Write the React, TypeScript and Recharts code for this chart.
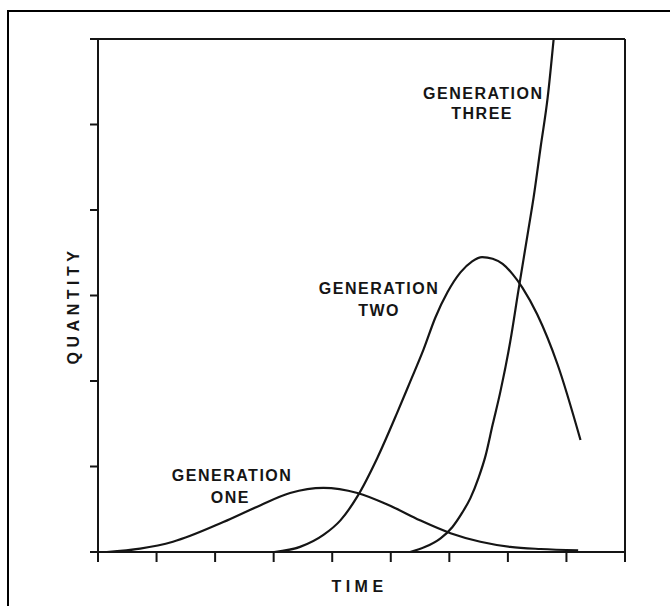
import React from 'react';
import { LineChart, Line, XAxis, YAxis, ReferenceLine, ReferenceDot } from 'recharts';

const xTicks = [0, 1, 2, 3, 4, 5, 6, 7, 8, 9];
const yTicks = [0, 1, 2, 3, 4, 5, 6];

const generationOne = [
  { t: 0.15, q: 0.0 }, { t: 0.72, q: 0.04 }, { t: 1.28, q: 0.12 }, { t: 2.14, q: 0.35 },
  { t: 2.72, q: 0.53 }, { t: 3.28, q: 0.69 }, { t: 3.85, q: 0.75 }, { t: 4.43, q: 0.69 },
  { t: 4.99, q: 0.54 }, { t: 5.5, q: 0.37 }, { t: 6.02, q: 0.22 }, { t: 6.53, q: 0.12 },
  { t: 7.04, q: 0.06 }, { t: 7.56, q: 0.035 }, { t: 8.2, q: 0.02 },
];

const generationTwo = [
  { t: 3.01, q: 0.0 }, { t: 3.45, q: 0.06 }, { t: 3.85, q: 0.2 }, { t: 4.14, q: 0.37 },
  { t: 4.43, q: 0.65 }, { t: 4.77, q: 1.1 }, { t: 5.11, q: 1.63 }, { t: 5.33, q: 1.99 },
  { t: 5.56, q: 2.37 }, { t: 5.76, q: 2.74 }, { t: 5.97, q: 3.04 }, { t: 6.19, q: 3.27 },
  { t: 6.39, q: 3.4 }, { t: 6.56, q: 3.45 }, { t: 6.74, q: 3.43 }, { t: 6.91, q: 3.37 },
  { t: 7.08, q: 3.25 }, { t: 7.25, q: 3.09 }, { t: 7.5, q: 2.78 }, { t: 7.85, q: 2.19 },
  { t: 8.24, q: 1.31 },
];

const generationThree = [
  { t: 5.33, q: 0.0 }, { t: 5.59, q: 0.06 }, { t: 5.85, q: 0.16 }, { t: 6.05, q: 0.29 },
  { t: 6.22, q: 0.46 }, { t: 6.36, q: 0.63 }, { t: 6.5, q: 0.87 }, { t: 6.62, q: 1.13 },
  { t: 6.74, q: 1.49 }, { t: 6.87, q: 1.87 }, { t: 7.04, q: 2.46 }, { t: 7.18, q: 3.06 },
  { t: 7.35, q: 3.77 }, { t: 7.44, q: 4.15 }, { t: 7.56, q: 4.74 }, { t: 7.68, q: 5.32 },
  { t: 7.78, q: 5.99 },
];

const annotations = [
  { t: 2.29, q: 0.89, text: 'GENERATION' },
  { t: 2.26, q: 0.64, text: 'ONE' },
  { t: 4.8, q: 3.08, text: 'GENERATION' },
  { t: 4.8, q: 2.83, text: 'TWO' },
  { t: 6.58, q: 5.36, text: 'GENERATION' },
  { t: 6.56, q: 5.13, text: 'THREE' },
];

const xTitle = 'TIME';
const yTitle = 'QUANTITY';

const INK = '#151515';
const FONT = '"Liberation Sans", Arial, sans-serif';

const textStyle = {
  fontFamily: FONT,
  fontSize: 16,
  fontWeight: 700,
  fill: INK,
};

const NoTickLabel = () => <g />;

const makeCenterText = (text: string, spacing: number) => (props: any) => {
  const vb = props.viewBox || {};
  const cx = vb.x + (vb.width || 0) / 2;
  const cy = vb.y + (vb.height || 0) / 2;
  return (
    <text x={cx} y={cy} textAnchor="middle" dominantBaseline="central" letterSpacing={spacing} style={textStyle}>
      {text}
    </text>
  );
};

const TimeLabel = (props: any) => {
  const vb = props.viewBox;
  const cx = vb.x + vb.width / 2 - 2;
  const cy = vb.y + 34;
  return (
    <text x={cx} y={cy} textAnchor="middle" dominantBaseline="central" letterSpacing={4.5} style={textStyle}>
      {xTitle}
    </text>
  );
};

const QuantityLabel = (props: any) => {
  const vb = props.viewBox;
  const cx = vb.x + vb.width - 25;
  const cy = vb.y + vb.height / 2 + 10;
  return (
    <text
      x={cx}
      y={cy}
      textAnchor="middle"
      dominantBaseline="central"
      letterSpacing={4.5}
      transform={`rotate(-90 ${cx} ${cy})`}
      style={textStyle}
    >
      {yTitle}
    </text>
  );
};

export default function App() {
  return (
    <div style={{ position: 'absolute', left: 0, top: 0, width: 670, height: 606, background: '#fff', overflow: 'hidden' }}>
      <div
        style={{
          position: 'absolute',
          left: 7,
          top: 10,
          width: 663,
          height: 596,
          borderLeft: `2px solid #000`,
          borderTop: `2px solid #000`,
          boxSizing: 'border-box',
        }}
      />
      <div style={{ position: 'absolute', left: 0, top: 0 }}>
        <LineChart width={670} height={606} margin={{ top: 39, right: 45, bottom: 14, left: 38 }}>
          <XAxis
            type="number"
            dataKey="t"
            domain={[0, 9]}
            ticks={xTicks}
            interval={0}
            allowDataOverflow
            tick={NoTickLabel}
            tickSize={10}
            height={40}
            axisLine={{ stroke: INK, strokeWidth: 2 }}
            tickLine={{ stroke: INK, strokeWidth: 2 }}
            label={{ content: TimeLabel } as any}
          />
          <YAxis
            type="number"
            dataKey="q"
            domain={[0, 6]}
            ticks={yTicks}
            interval={0}
            allowDataOverflow
            tick={NoTickLabel}
            tickSize={8}
            width={60}
            axisLine={{ stroke: INK, strokeWidth: 2 }}
            tickLine={{ stroke: INK, strokeWidth: 2 }}
            label={{ content: QuantityLabel } as any}
          />
          <ReferenceLine y={6} stroke={INK} strokeWidth={2} />
          <ReferenceLine x={9} stroke={INK} strokeWidth={2} />
          <Line data={generationOne} dataKey="q" type="monotone" stroke={INK} strokeWidth={2.2} dot={false} isAnimationActive={false} />
          <Line data={generationTwo} dataKey="q" type="monotone" stroke={INK} strokeWidth={2.2} dot={false} isAnimationActive={false} />
          <Line data={generationThree} dataKey="q" type="monotone" stroke={INK} strokeWidth={2.2} dot={false} isAnimationActive={false} />
          {annotations.map((a, i) => (
            <ReferenceDot
              key={i}
              x={a.t}
              y={a.q}
              r={0}
              fill="none"
              stroke="none"
              label={{ content: makeCenterText(a.text, 1.5) } as any}
            />
          ))}
        </LineChart>
      </div>
    </div>
  );
}
